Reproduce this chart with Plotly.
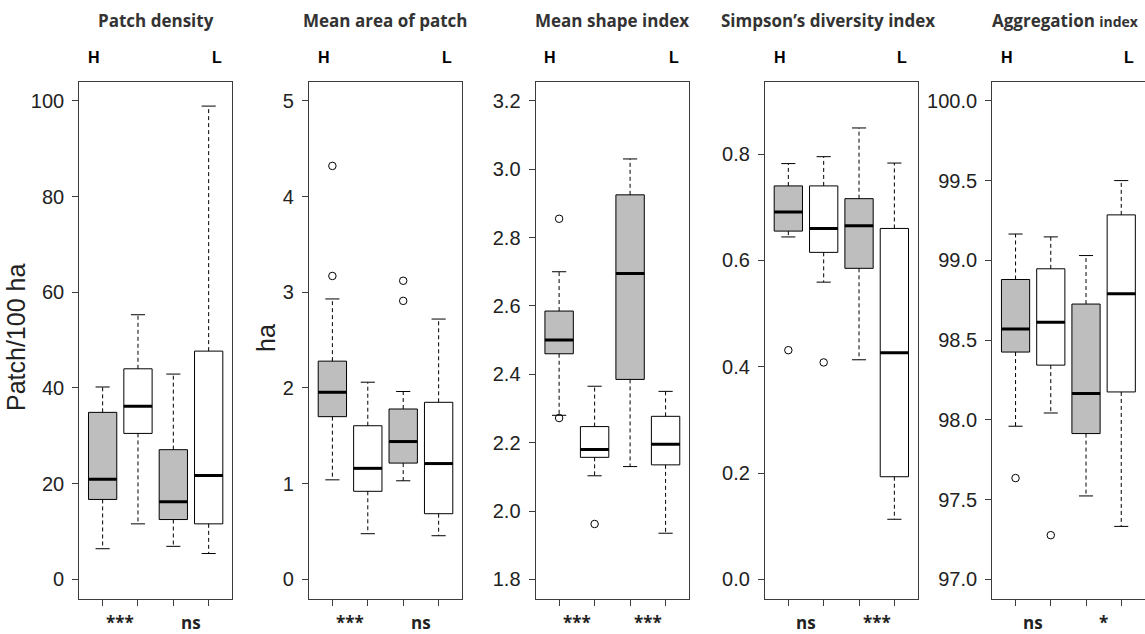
import plotly.graph_objects as go

# ---------------- data ----------------
titles = ["Patch density", "Mean area of patch", "Mean shape index",
          "Simpson\u2019s diversity index", "Aggregation index"]
ytitles = ["Patch/100 ha", "ha", "", "", ""]
groups = [1, 2, 3, 4]            # H-gray, H-white, L-gray, L-white
fills = ["#bebebe", "#ffffff", "#bebebe", "#ffffff"]

# per panel: lower whisker, Q1, median, Q3, upper whisker (4 boxes each)
pd_lower = [6.4, 11.6, 6.9, 5.4]
pd_q1 = [16.7, 30.5, 12.5, 11.6]
pd_med = [20.9, 36.2, 16.2, 21.7]
pd_q3 = [34.9, 44.0, 27.1, 47.7]
pd_upper = [40.2, 55.3, 42.9, 98.9]
pd_out_x, pd_out_y = [], []

ma_lower = [1.04, 0.477, 1.03, 0.456]
ma_q1 = [1.70, 0.92, 1.215, 0.686]
ma_med = [1.955, 1.16, 1.44, 1.21]
ma_q3 = [2.28, 1.605, 1.78, 1.85]
ma_upper = [2.93, 2.06, 1.963, 2.72]
ma_out_x = [1, 1, 3, 3]
ma_out_y = [4.32, 3.17, 3.12, 2.91]

ms_lower = [2.28, 2.103, 2.13, 1.935]
ms_q1 = [2.46, 2.157, 2.385, 2.135]
ms_med = [2.50, 2.18, 2.695, 2.195]
ms_q3 = [2.585, 2.247, 2.925, 2.277]
ms_upper = [2.70, 2.365, 3.03, 2.35]
ms_out_x = [1, 1, 2]
ms_out_y = [2.855, 2.272, 1.962]

sd_lower = [0.644, 0.559, 0.413, 0.113]
sd_q1 = [0.655, 0.615, 0.585, 0.193]
sd_med = [0.691, 0.660, 0.665, 0.426]
sd_q3 = [0.740, 0.740, 0.716, 0.660]
sd_upper = [0.782, 0.795, 0.849, 0.783]
sd_out_x = [1, 2]
sd_out_y = [0.431, 0.408]

ai_lower = [97.96, 98.043, 97.523, 97.332]
ai_q1 = [98.425, 98.343, 97.914, 98.175]
ai_med = [98.570, 98.612, 98.165, 98.790]
ai_q3 = [98.880, 98.947, 98.726, 99.285]
ai_upper = [99.165, 99.147, 99.030, 99.500]
ai_out_x = [1, 2]
ai_out_y = [97.635, 97.277]

ylims = [(0, 100), (0, 5), (1.8, 3.2), (0, 0.9), (97, 100)]
yticks = [[0, 20, 40, 60, 80, 100], [0, 1, 2, 3, 4, 5],
          [1.8, 2.0, 2.2, 2.4, 2.6, 2.8, 3.0, 3.2],
          [0.0, 0.2, 0.4, 0.6, 0.8],
          [97.0, 97.5, 98.0, 98.5, 99.0, 99.5, 100.0]]
ytickfmt = ["d", "d", ".1f", ".1f", ".1f"]
sig_left = ["***", "***", "***", "ns", "ns"]
sig_right = ["ns", "ns", "***", "***", "*"]

panels = [
    (pd_lower, pd_q1, pd_med, pd_q3, pd_upper, pd_out_x, pd_out_y),
    (ma_lower, ma_q1, ma_med, ma_q3, ma_upper, ma_out_x, ma_out_y),
    (ms_lower, ms_q1, ms_med, ms_q3, ms_upper, ms_out_x, ms_out_y),
    (sd_lower, sd_q1, sd_med, sd_q3, sd_upper, sd_out_x, sd_out_y),
    (ai_lower, ai_q1, ai_med, ai_q3, ai_upper, ai_out_x, ai_out_y),
]

# ---------------- layout constants ----------------
W, H = 1145, 634
x_domains_px = [(79.3, 232.0), (309.0, 462.0), (535.7, 689.0),
                (765.0, 917.7), (992.3, 1144.5)]
title_fx = [0.5, 0.5, 0.5, 0.41, 0.48]
y_dom = [1 - 598.5 / H, 1 - 81.7 / H]
BOXW = 0.8
CAPW = 0.4
FRAME = "#3c3c3c"
TITLE_FONT = "Open Sans"
TICK_FONT = "Liberation Sans, Arial"

fig = go.Figure()
layout = dict(width=W, height=H, margin=dict(l=0, r=0, t=0, b=0),
              paper_bgcolor="white", plot_bgcolor="white",
              showlegend=False, boxmode="overlay")
annotations = []

for i, (lo, q1, med, q3, up, ox, oy) in enumerate(panels):
    n = i + 1
    xa = "x" if n == 1 else f"x{n}"
    ya = "y" if n == 1 else f"y{n}"
    # dashed whiskers
    wx, wy = [], []
    for g, a, b, c, d in zip(groups, lo, q1, q3, up):
        wx += [g, g, None, g, g, None]
        wy += [c, d, None, b, a, None]
    fig.add_trace(go.Scatter(x=wx, y=wy, mode="lines", xaxis=xa, yaxis=ya,
                             line=dict(color="black", width=1, dash="4px,3px"),
                             hoverinfo="skip"))
    # caps
    cx, cy = [], []
    for g, a, d in zip(groups, lo, up):
        cx += [g - CAPW / 2, g + CAPW / 2, None, g - CAPW / 2, g + CAPW / 2, None]
        cy += [d, d, None, a, a, None]
    fig.add_trace(go.Scatter(x=cx, y=cy, mode="lines", xaxis=xa, yaxis=ya,
                             line=dict(color="black", width=1),
                             hoverinfo="skip"))
    # boxes
    for g, b, m, c, f in zip(groups, q1, med, q3, fills):
        fig.add_trace(go.Box(x=[g], q1=[b], median=[m], q3=[c],
                             lowerfence=[b], upperfence=[c],
                             width=BOXW, whiskerwidth=0, boxpoints=False,
                             fillcolor=f, line=dict(color="black", width=1),
                             xaxis=xa, yaxis=ya, hoverinfo="skip"))
    # thick medians
    mx, my = [], []
    for g, m in zip(groups, med):
        mx += [g - BOXW / 2, g + BOXW / 2, None]
        my += [m, m, None]
    fig.add_trace(go.Scatter(x=mx, y=my, mode="lines", xaxis=xa, yaxis=ya,
                             line=dict(color="black", width=3),
                             hoverinfo="skip"))
    # outliers
    if ox:
        fig.add_trace(go.Scatter(x=ox, y=oy, mode="markers", xaxis=xa, yaxis=ya,
                                 marker=dict(symbol="circle-open", size=7.5,
                                             color="black", line=dict(width=1)),
                                 hoverinfo="skip"))

    y0, y1 = ylims[i]
    ext = 0.04 * (y1 - y0)
    xd = [x_domains_px[i][0] / W, x_domains_px[i][1] / W]
    layout["xaxis" if n == 1 else f"xaxis{n}"] = dict(
        domain=xd, range=[0.5 - 0.04 * 4, 4.5 + 0.04 * 4],
        tickvals=groups, ticktext=["", "", "", ""], ticks="outside",
        ticklen=6, tickcolor=FRAME, tickwidth=1,
        showline=True, mirror=True, linecolor=FRAME, linewidth=1.3,
        showgrid=False, zeroline=False, anchor=ya, fixedrange=True)
    layout["yaxis" if n == 1 else f"yaxis{n}"] = dict(
        domain=y_dom, range=[y0 - ext, y1 + ext],
        tickvals=yticks[i], tickformat=ytickfmt[i], ticks="outside",
        ticklen=6, tickcolor=FRAME, tickwidth=1, ticklabelstandoff=4,
        tickfont=dict(family=TICK_FONT, size=20, color="#222222"),
        showline=True, mirror=True, linecolor=FRAME, linewidth=1.3,
        showgrid=False, zeroline=False, anchor=xa, fixedrange=True)

    xdom = "x domain" if n == 1 else f"x{n} domain"
    xref = "x" if n == 1 else f"x{n}"
    # panel title
    if i == 4:
        ttext = "Aggregation <span style='font-size:14px'>index</span>"
    else:
        ttext = titles[i]
    annotations.append(dict(text=f"<b>{ttext}</b>", xref=xdom, yref="paper",
                            x=title_fx[i], y=1 - 20 / H, showarrow=False,
                            xanchor="center", yanchor="middle",
                            font=dict(family=TITLE_FONT, size=17, color="#333333")))
    # H / L
    for lab, fx in (("H", 0.096), ("L", 0.9)):
        annotations.append(dict(text=f"<b>{lab}</b>", xref=xdom, yref="paper",
                                x=fx, y=1 - 57 / H, showarrow=False,
                                xanchor="center", yanchor="middle",
                                font=dict(family=TICK_FONT, size=16, color="black")))
    # significance labels
    for lab, gx in ((sig_left[i], 1.5), (sig_right[i], 3.5)):
        annotations.append(dict(text=f"<b>{lab}</b>", xref=xref, yref="paper",
                                x=gx, y=-2 / H, showarrow=False,
                                xanchor="center", yanchor="bottom",
                                font=dict(family=TITLE_FONT, size=17, color="#222222")))
    # y-axis title
    if ytitles[i]:
        tx = [16, 266][i]
        annotations.append(dict(text=ytitles[i], xref="paper", yref="paper",
                                x=tx / W, y=1 - 338 / H,
                                textangle=-90, showarrow=False,
                                xanchor="center", yanchor="middle",
                                font=dict(family=TICK_FONT, size=25, color="#222222")))

layout["annotations"] = annotations
fig.update_layout(**layout)
fig.write_html("out.html")
